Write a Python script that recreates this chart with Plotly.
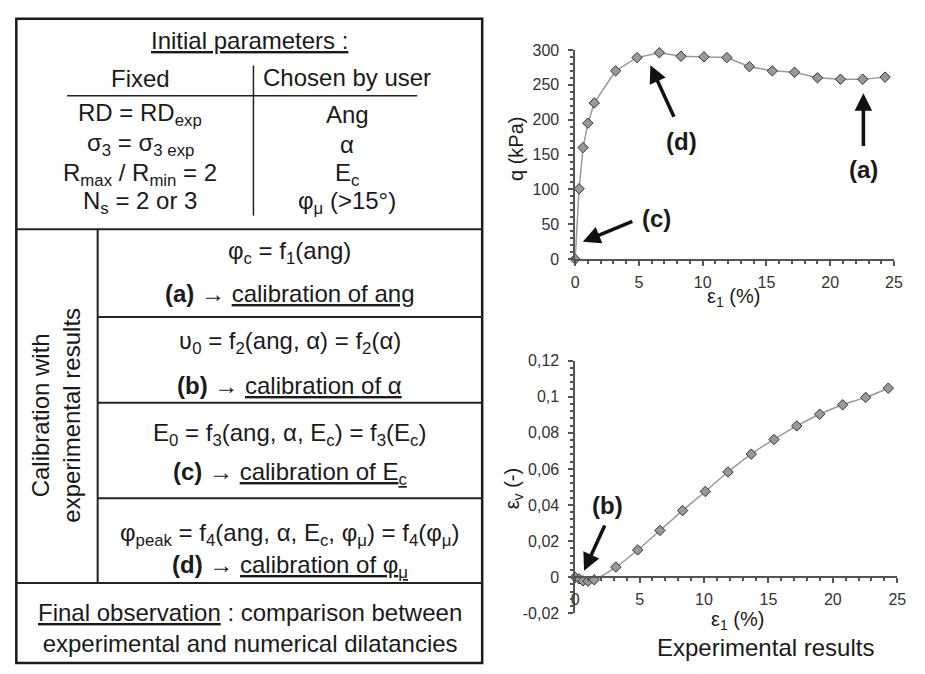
import plotly.graph_objects as go

W, H = 925, 674
FONT = "Liberation Sans, Arial, Helvetica, sans-serif"

# --- deviatoric stress vs axial strain ---
eps1_q = [0, 0.31, 0.62, 1.0, 1.5, 3.17, 4.85, 6.6, 8.3, 10.1, 11.9, 13.66,
          15.46, 17.2, 19.0, 20.8, 22.55, 24.3]
q_kpa = [0, 101, 160, 195, 224, 270, 289, 296, 291, 290, 289, 276,
         270, 268, 260, 258, 258, 261]

# --- volumetric strain vs axial strain ---
eps1_v = [0, 0.31, 0.61, 1.0, 1.48, 3.16, 4.85, 6.58, 8.34, 10.1, 11.86, 13.67,
          15.43, 17.2, 18.98, 20.76, 22.55, 24.3]
eps_v = [0, -0.0009, -0.002, -0.0022, -0.0014, 0.0056, 0.0151, 0.0259, 0.0369,
         0.0475, 0.0583, 0.0682, 0.0763, 0.0838, 0.0903, 0.0955, 0.0996, 0.1047]

# axis ticks
x_ticks = [0, 5, 10, 15, 20, 25]
q_ticks = [0, 50, 100, 150, 200, 250, 300]
ev_tickvals = [-0.02, 0, 0.02, 0.04, 0.06, 0.08, 0.1, 0.12]
ev_ticktext = ["-0,02", "0", "0,02", "0,04", "0,06", "0,08", "0,1", "0,12"]

# calibration procedure table text
header = "<u>Initial parameters :</u>"
col_titles = ["Fixed", "Chosen by user"]
fixed_params = ["RD = RD<sub>exp</sub>",
                "σ<sub>3</sub> = σ<sub>3 exp</sub>",
                "R<sub>max</sub> / R<sub>min</sub> = 2",
                "N<sub>s</sub> = 2 or 3"]
user_params = ["Ang", "α", "E<sub>c</sub>", "φ<sub>μ</sub> (>15°)"]
side_label = "Calibration with<br>experimental results"
steps = [
    ("φ<sub>c</sub> = f<sub>1</sub>(ang)",
     "<b>(a)</b> → <u>calibration of ang</u>"),
    ("ʋ<sub>0</sub> = f<sub>2</sub>(ang, α) = f<sub>2</sub>(α)",
     "<b>(b)</b> → <u>calibration of α</u>"),
    ("E<sub>0</sub> = f<sub>3</sub>(ang, α, E<sub>c</sub>) = f<sub>3</sub>(E<sub>c</sub>)",
     "<b>(c)</b> → <u>calibration of E<sub>c</sub></u>"),
    ("φ<sub>peak</sub> = f<sub>4</sub>(ang, α, E<sub>c</sub>, φ<sub>μ</sub>) = f<sub>4</sub>(φ<sub>μ</sub>)",
     "<b>(d)</b> → <u>calibration of φ<sub>μ</sub></u>"),
]
final_text = "<u>Final observation</u> : comparison between<br>experimental and numerical dilatancies"


def px(x):
    return x / W


def py(y):
    return 1 - y / H


marker = dict(symbol="diamond", size=8, color="#999999",
              line=dict(color="#333333", width=1))

fig = go.Figure()
fig.add_trace(go.Scatter(x=eps1_q, y=q_kpa, mode="lines+markers",
                         line=dict(color="#9a9a9a", width=1.5),
                         marker=marker, cliponaxis=False,
                         xaxis="x", yaxis="y", showlegend=False))
fig.add_trace(go.Scatter(x=eps1_v, y=eps_v, mode="lines+markers",
                         line=dict(color="#9a9a9a", width=1.5, shape="spline"),
                         marker=marker, cliponaxis=False,
                         xaxis="x2", yaxis="y2", showlegend=False))

axis_common = dict(showline=True, linecolor="#555555", linewidth=1.5,
                   ticks="outside", ticklen=5, tickwidth=1.5, tickcolor="#555555",
                   showgrid=False, zeroline=False,
                   tickfont=dict(family=FONT, size=16, color="#333333"))

y2_dom = [py(621), py(361.7)]
y2_range = [-0.02, 0.12]
x2_pos = y2_dom[0] + (0 - y2_range[0]) / (y2_range[1] - y2_range[0]) * (y2_dom[1] - y2_dom[0])

fig.update_layout(
    width=W, height=H, margin=dict(l=0, r=0, t=0, b=0),
    paper_bgcolor="white", plot_bgcolor="white",
    font=dict(family=FONT, color="#1a1a1a"),
    xaxis=dict(domain=[px(579.3), px(902.7)], range=[0, 25], anchor="y",
               tickvals=x_ticks, ticklabelstandoff=3,
               minor=dict(dtick=1, ticks="outside", ticklen=3, tickcolor="#555555"),
               **axis_common),
    yaxis=dict(domain=[py(257.7), py(43)], range=[0, 300], anchor="x",
               tickvals=q_ticks, ticklabelstandoff=6,
               minor=dict(dtick=10, ticks="outside", ticklen=3, tickcolor="#555555"),
               **axis_common),
    xaxis2=dict(domain=[px(579.3), px(906)], range=[0, 25], anchor="free",
                position=x2_pos, tickvals=x_ticks, ticklabelstandoff=3,
                minor=dict(dtick=1, ticks="outside", ticklen=3, tickcolor="#555555"),
                **axis_common),
    yaxis2=dict(domain=y2_dom, range=y2_range, anchor="x2",
                tickvals=ev_tickvals, ticktext=ev_ticktext, ticklabelstandoff=6,
                minor=dict(dtick=0.004, ticks="outside", ticklen=3, tickcolor="#555555"),
                **axis_common),
)

# --- table frame ---
shapes = []


def hline(y, x0, x1, w=2, c="#222222"):
    shapes.append(dict(type="line", xref="paper", yref="paper",
                       x0=px(x0), x1=px(x1), y0=py(y), y1=py(y),
                       line=dict(color=c, width=w)))


def vline(x, y0, y1, w=2, c="#222222"):
    shapes.append(dict(type="line", xref="paper", yref="paper",
                       x0=px(x), x1=px(x), y0=py(y0), y1=py(y1),
                       line=dict(color=c, width=w)))


shapes.append(dict(type="rect", xref="paper", yref="paper",
                   x0=px(12.5), x1=px(485), y0=py(672), y1=py(11),
                   line=dict(color="#1a1a1a", width=2.5)))
hline(227, 12.5, 485)
hline(590, 12.5, 485)
vline(95, 227, 590)
for yy in [317, 405, 503]:
    hline(yy, 95, 485)
hline(90, 64, 419, w=1.5)
vline(253, 59, 213, w=1.5)

annotations = []


def txt(x, y, s, size=24, **kw):
    d = dict(xref="paper", yref="paper", x=px(x), y=py(y), text=s,
             showarrow=False, xanchor="center", yanchor="middle",
             font=dict(family=FONT, size=size, color="#1a1a1a"))
    d.update(kw)
    annotations.append(d)


txt(249, 33, header)
txt(138, 72, col_titles[0])
txt(348, 71, col_titles[1])
row_y = [109, 140, 171, 200]
for yy, a, b in zip(row_y, fixed_params, user_params):
    txt(138, yy, a)
    txt(348, yy, b)

txt(53, 418, side_label, textangle=-90)

step_y = [(251, 293), (343, 387), (438, 478), (540, 573)]
for (y1, y2), (l1, l2) in zip(step_y, steps):
    txt(290, y1, l1)
    txt(290, y2, l2)

txt(249, 636, final_text)

# --- axis titles ---
txt(520, 145, "q (kPa)", size=20, textangle=-90)
txt(740, 297, "ε<sub>1</sub> (%)", size=20)
txt(517, 493, "ε<sub>v</sub> (-)", size=20, textangle=-90)
txt(744, 628, "ε<sub>1</sub> (%)", size=20)
txt(772, 656, "Experimental results", size=24)

# --- pointer arrows on the curves ---
arrows = [
    # (label, axes, text_xy, tail_xy, head_xy)
    ("(d)", ("x", "y"), (8.3, 169), (7.8, 202), (5.9, 278)),
    ("(a)", ("x", "y"), (22.6, 129), (22.6, 160), (22.6, 238)),
    ("(c)", ("x", "y"), (6.4, 58), (4.6, 55), (0.6, 25)),
    ("(b)", ("x2", "y2"), (2.48, 0.0396), (2.35, 0.0295), (0.69, 0.0036)),
]
for label, (xr, yr), t, tail, head in arrows:
    annotations.append(dict(xref=xr, yref=yr, axref=xr, ayref=yr,
                            x=head[0], y=head[1], ax=tail[0], ay=tail[1],
                            text="", showarrow=True, arrowhead=2,
                            arrowsize=1, arrowwidth=3.5, arrowcolor="#111111"))
    annotations.append(dict(xref=xr, yref=yr, x=t[0], y=t[1],
                            text="<b>" + label + "</b>", showarrow=False,
                            font=dict(family=FONT, size=24, color="#1a1a1a")))

fig.update_layout(shapes=shapes, annotations=annotations)
fig.write_html("out.html",
               post_script="document.body.style.margin='0';"
                           "document.body.style.overflow='hidden';")
